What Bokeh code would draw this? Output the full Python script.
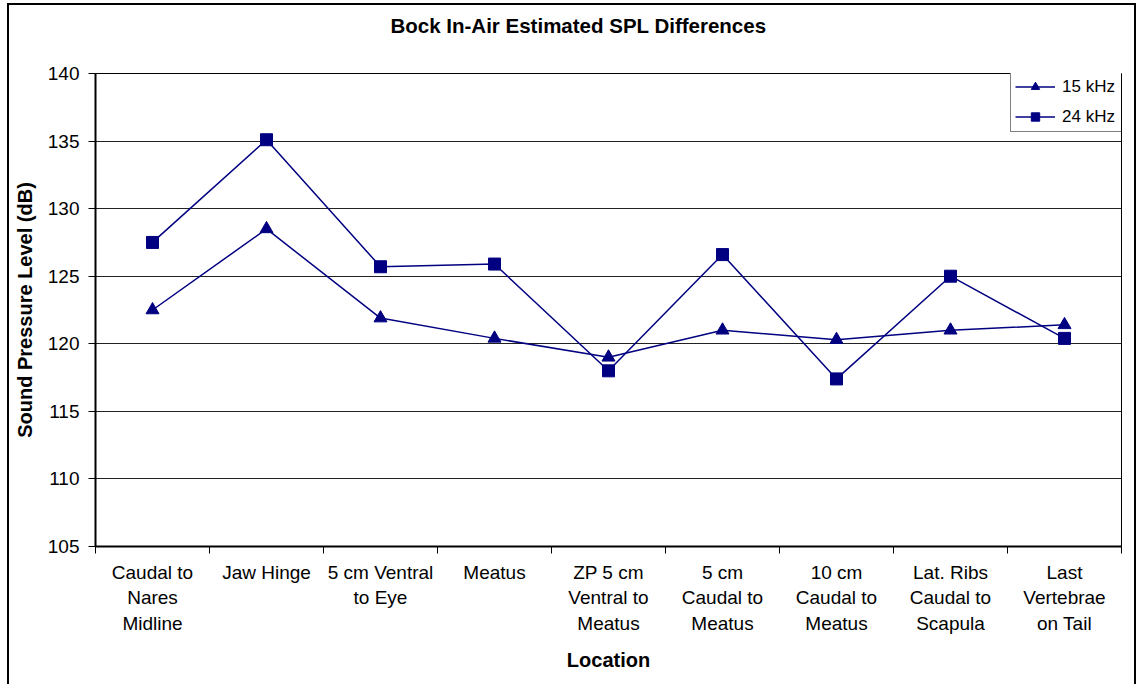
from bokeh.plotting import figure
from bokeh.models import Range1d, FixedTicker, Legend, LegendItem, Title
from bokeh.embed import file_html
from bokeh.resources import INLINE

# ---- data ----
locations = [
    "Caudal to\nNares\nMidline",
    "Jaw Hinge",
    "5 cm Ventral\nto Eye",
    "Meatus",
    "ZP 5 cm\nVentral to\nMeatus",
    "5 cm\nCaudal to\nMeatus",
    "10 cm\nCaudal to\nMeatus",
    "Lat. Ribs\nCaudal to\nScapula",
    "Last\nVertebrae\non Tail",
]
spl_15khz = [122.5, 128.5, 121.9, 120.4, 119.0, 121.0, 120.3, 121.0, 121.4]
spl_24khz = [127.5, 135.1, 125.7, 125.9, 118.0, 126.6, 117.4, 125.0, 120.4]
y_ticks = [105, 110, 115, 120, 125, 130, 135, 140]
series_names = ["15 kHz", "24 kHz"]
title_text = "Bock In-Air Estimated SPL Differences"

FONT = "Liberation Sans"
NAVY = "#000080"

xs = list(range(len(locations)))

p = figure(
    width=1129, height=681,
    output_backend="svg", toolbar_location=None,
    x_range=Range1d(-0.5, len(locations) - 0.5),
    y_range=Range1d(y_ticks[0], y_ticks[-1]),
    min_border_left=86, min_border_right=17,
    min_border_top=68, min_border_bottom=140,
)
p.styles = {
    "margin-left": "7px",
    "margin-top": "3px",
    "border-left": "2px solid black",
    "border-top": "2px solid black",
    "border-right": "2px solid black",
}

p.background_fill_color = "white"
p.border_fill_color = "white"
p.outline_line_color = "black"
p.outline_line_width = 1

# title (a blank spacer title sits between the real title and the frame)
p.add_layout(Title(text=" ", text_font=FONT, text_font_size="10px", standoff=19), "above")
p.add_layout(Title(
    text=title_text, text_font=FONT, text_font_style="bold",
    text_font_size="20.5px", text_color="black",
    align="left", offset=295, standoff=10,
), "above")

# grid
p.xgrid.grid_line_color = None
p.ygrid.grid_line_color = "#222222"
p.ygrid.grid_line_width = 1
p.ygrid.ticker = FixedTicker(ticks=y_ticks)

# y axis
ya = p.yaxis[0]
ya.ticker = FixedTicker(ticks=y_ticks)
ya.axis_label = "Sound Pressure Level (dB)"
ya.axis_label_text_font = FONT
ya.axis_label_text_font_style = "bold"
ya.axis_label_text_font_size = "20px"
ya.axis_label_text_color = "black"
ya.axis_label_standoff = 9
ya.major_label_text_font = FONT
ya.major_label_text_font_size = "19px"
ya.major_label_text_color = "black"
ya.major_label_standoff = 9
ya.major_tick_out = 7
ya.major_tick_in = 0
ya.minor_tick_line_color = None
ya.axis_line_width = 2
ya.axis_line_color = "black"
ya.major_tick_line_color = "black"

# x axis
xa = p.xaxis[0]
xa.ticker = FixedTicker(ticks=xs, minor_ticks=[i - 0.5 for i in range(len(locations) + 1)])
xa.major_label_overrides = {i: lab for i, lab in enumerate(locations)}
xa.axis_label = "Location"
xa.axis_label_text_font = FONT
xa.axis_label_text_font_style = "bold"
xa.axis_label_text_font_size = "20px"
xa.axis_label_text_color = "black"
xa.axis_label_standoff = 12
xa.major_label_text_font = FONT
xa.major_label_text_font_size = "19px"
xa.major_label_text_color = "black"
xa.major_label_text_line_height = 1.22
xa.major_label_standoff = 8
xa.major_tick_out = 0
xa.major_tick_in = 0
xa.major_tick_line_color = None
xa.minor_tick_out = 7
xa.minor_tick_in = 0
xa.minor_tick_line_color = "black"
xa.axis_line_width = 2
xa.axis_line_color = "black"

# series
l15 = p.line(xs, spl_15khz, line_color=NAVY, line_width=1.5)
s15 = p.scatter(xs, spl_15khz, marker="triangle", size=13, fill_color=NAVY, line_color=NAVY)
l24 = p.line(xs, spl_24khz, line_color=NAVY, line_width=1.5)
s24 = p.scatter(xs, spl_24khz, marker="square", size=12, fill_color=NAVY, line_color=NAVY)

legend = Legend(
    items=[
        LegendItem(label=series_names[0], renderers=[l15, s15]),
        LegendItem(label=series_names[1], renderers=[l24, s24]),
    ],
    location=(915, 414),
    label_text_font=FONT,
    label_text_font_size="17px",
    label_text_color="black",
    label_standoff=7,
    glyph_width=40,
    glyph_height=21,
    label_height=21,
    label_width=59,
    spacing=9,
    padding=4,
    margin=0,
    border_line_color="black",
    border_line_width=1,
    background_fill_color="white",
    background_fill_alpha=1,
)
p.add_layout(legend, "center")

open("out.html", "w").write(file_html(p, INLINE))
